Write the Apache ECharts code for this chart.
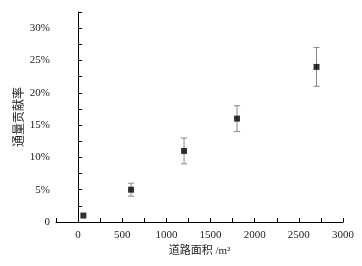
<!DOCTYPE html>
<html>
<head>
<meta charset="UTF-8">
<script src="https://cdn.jsdelivr.net/npm/echarts@6/dist/echarts.min.js"></script>
<style>body{margin:0}#chart{width:362px;height:266px}</style>
</head>
<body>
<div id="chart"></div>
<script>
// 道路面积 (m2) 与 通量贡献率 (%)
var area = [60, 600, 1200, 1800, 2700];
var rate = [1, 5, 11, 16, 24];
var err = [0, 1, 2, 2, 3];

var pts = [], bars = [];
for (var i = 0; i < area.length; i++) {
	pts.push([area[i], rate[i]]);
	bars.push([area[i], rate[i] - err[i], rate[i] + err[i]]);
}
var serif = 'Liberation Serif, Noto Sans CJK SC';
var chart = echarts.init(document.getElementById('chart'));
chart.setOption({
	animation: false,
	grid: {left: 56, right: 19, top: 12, bottom: 44},
	xAxis: {
		type: 'value', min: -250, max: 3000, interval: 250,
		name: '道路面积 /m²', nameLocation: 'middle', nameGap: 20,
		nameTextStyle: {fontFamily: serif, fontSize: 11, color: '#222'},
		axisLine: {lineStyle: {color: '#000'}},
		axisTick: {inside: true, length: 4, lineStyle: {color: '#000'}},
		splitLine: {show: false},
		axisLabel: {
			fontFamily: serif, fontSize: 11, color: '#222', margin: 8,
			formatter: function(v){ return (v % 500 === 0) ? String(v) : ''; }
		}
	},
	yAxis: {
		type: 'value', min: 0, max: 32.5, interval: 2.5,
		name: '通量贡献率', nameLocation: 'middle', nameGap: 30, nameMoveOverlap: false,
		nameTextStyle: {fontFamily: serif, fontSize: 12, color: '#222'},
		axisLine: {show: true, lineStyle: {color: '#000'}},
		axisTick: {inside: true, length: 4, lineStyle: {color: '#000'}},
		splitLine: {show: false},
		axisLabel: {
			fontFamily: serif, fontSize: 11, color: '#222', margin: 6,
			formatter: function(v){
				if (v === 0) return '0';
				return (v % 5 === 0 && v <= 30) ? v + '%' : '';
			}
		}
	},
	series: [{
		type: 'custom',
		data: bars,
		renderItem: function(params, api) {
			var lo = api.coord([api.value(0), api.value(1)]);
			var hi = api.coord([api.value(0), api.value(2)]);
			if (api.value(2) - api.value(1) <= 0) return;
			var st = {stroke: '#888', lineWidth: 1};
			return {type: 'group', children: [
				{type: 'line', shape: {x1: lo[0], y1: lo[1], x2: hi[0], y2: hi[1]}, style: st},
				{type: 'line', shape: {x1: lo[0] - 3, y1: lo[1], x2: lo[0] + 3, y2: lo[1]}, style: st},
				{type: 'line', shape: {x1: hi[0] - 3, y1: hi[1], x2: hi[0] + 3, y2: hi[1]}, style: st}
			]};
		},
		z: 1
	}, {
		type: 'scatter',
		data: pts,
		symbol: 'rect',
		symbolSize: 6,
		itemStyle: {color: '#000'},
		z: 2
	}]
});
</script>
</body>
</html>
